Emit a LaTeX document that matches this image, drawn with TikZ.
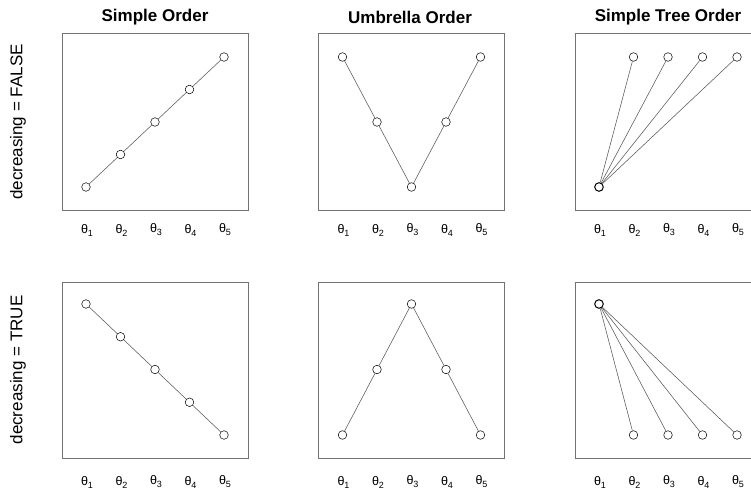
\documentclass[tikz,border=0pt]{standalone}
\usepackage{fontspec}
\setmainfont{Liberation Sans}
\newcommand{\thsub}[1]{θ\raisebox{-3pt}{\fontsize{9}{10}\selectfont #1}}
\begin{document}
\begin{tikzpicture}[x=1pt,y=-1pt,
  panel/.style={draw=black!55,line width=0.9pt},
  pt/.style={circle,draw=black,fill=white,line width=0.5pt,inner sep=0pt,minimum size=8.6pt},
  rootpt/.style={pt,line width=1pt},
  conn/.style={draw=black!65,line width=0.55pt},
  ttl/.style={font=\fontsize{17}{20}\selectfont\bfseries},
  rowlab/.style={font=\fontsize{17}{20}\selectfont,rotate=90},
  tlab/.style={font=\fontsize{12.5}{14}\selectfont}]
\useasboundingbox (0,0) rectangle (751,489);
\clip (0,0) rectangle (751,489);
\fill[white] (0,0) rectangle (751,489);
% titles
\node[ttl] (t1) at (155,17) {Simple Order};
\node[ttl] (t2) at (410,17) {Umbrella Order};
\node[ttl] (t3) at (668,17) {Simple Tree Order};
% row labels
\node[rowlab] (r1) at (18,122) {decreasing = FALSE};
\node[rowlab] (r2) at (18,370) {decreasing = TRUE};
% panel boxes
\foreach \i/\px in {1/62,2/318.5,3/575}{
  \draw[panel] (\px,33) rectangle ++(186,177);
  \draw[panel] (\px,282) rectangle ++(186,176);
}
% theta labels
\foreach \i/\px in {1/86,2/342.5,3/599}{
  \foreach \k in {1,...,5}{
    \node[tlab] (la\i\k) at ({\px+34.5*(\k-1)+1},230) {\thsub{\k}};
    \node[tlab] (lb\i\k) at ({\px+34.5*(\k-1)+1},482) {\thsub{\k}};
  }
}
% --- Simple order, increasing
\foreach \k/\yy in {1/187,2/154.5,3/122,4/89.5,5/57}{
  \node[pt] (sa\k) at ({86+34.5*(\k-1)},\yy) {};
}
\draw[conn] (sa1)--(sa2) (sa2)--(sa3) (sa3)--(sa4) (sa4)--(sa5);
% --- Simple order, decreasing
\foreach \k/\yy in {1/304,2/336.75,3/369.5,4/402.25,5/435}{
  \node[pt] (sb\k) at ({86+34.5*(\k-1)},\yy) {};
}
\draw[conn] (sb1)--(sb2) (sb2)--(sb3) (sb3)--(sb4) (sb4)--(sb5);
% --- Umbrella, increasing
\foreach \k/\yy in {1/57,2/122,3/187,4/122,5/57}{
  \node[pt] (ua\k) at ({342.5+34.5*(\k-1)},\yy) {};
}
\draw[conn] (ua1)--(ua2) (ua2)--(ua3) (ua3)--(ua4) (ua4)--(ua5);
% --- Umbrella, decreasing
\foreach \k/\yy in {1/435,2/369.5,3/304,4/369.5,5/435}{
  \node[pt] (ub\k) at ({342.5+34.5*(\k-1)},\yy) {};
}
\draw[conn] (ub1)--(ub2) (ub2)--(ub3) (ub3)--(ub4) (ub4)--(ub5);
% --- Tree, increasing
\node[rootpt] (ta1) at (599,187) {};
\foreach \k in {2,...,5}{
  \node[pt] (ta\k) at ({599+34.5*(\k-1)},57) {};
  \draw[conn] (ta1)--(ta\k);
}
% --- Tree, decreasing
\node[rootpt] (tb1) at (599,304) {};
\foreach \k in {2,...,5}{
  \node[pt] (tb\k) at ({599+34.5*(\k-1)},435) {};
  \draw[conn] (tb1)--(tb\k);
}
\end{tikzpicture}
\end{document}
